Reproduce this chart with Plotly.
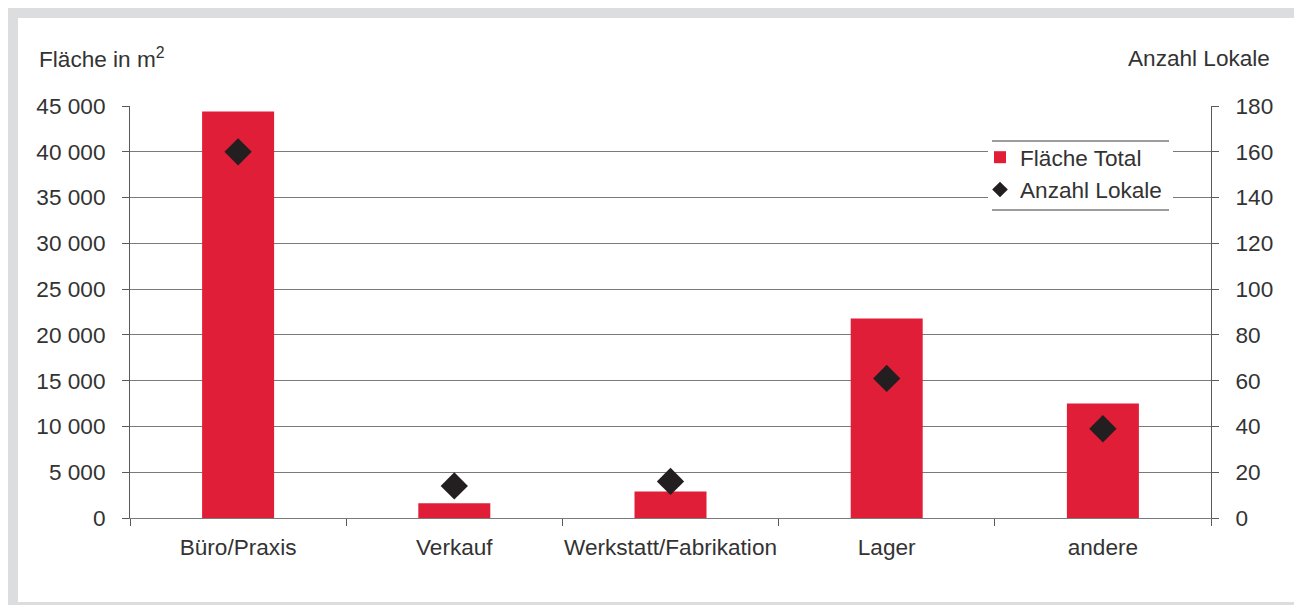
import plotly.graph_objects as go

categories = ["Büro/Praxis", "Verkauf", "Werkstatt/Fabrikation", "Lager", "andere"]
flaeche_total = [44400, 1600, 2900, 21800, 12500]
anzahl_lokale = [160, 14, 16, 61, 39]

W, H = 1294, 605
L, R, T, B = 130, 1211, 106, 518

def px_x(p):
    return (p - L) / (R - L)

def px_y(p):
    return (B - p) / (B - T)

FONT = "Liberation Sans"
FS = 22.6
TXT = "#333333"
RED = "#e01e37"
GRID = "#7a7a7a"
AX = "#5a5a5a"

fig = go.Figure()
fig.add_trace(go.Bar(
    x=categories, y=flaeche_total, name="Fläche Total",
    marker=dict(color=RED, line=dict(width=0)), width=0.333,
    legendgroup="a", yaxis="y",
))
fig.add_trace(go.Scatter(
    x=categories, y=anzahl_lokale, name="Anzahl Lokale", mode="markers",
    marker=dict(symbol="diamond", size=21, color="#231f20"),
    legendgroup="b", yaxis="y2",
))

fig.update_layout(
    width=W, height=H,
    margin=dict(l=L, r=W - R, t=T, b=H - B, pad=0, autoexpand=False),
    paper_bgcolor="white", plot_bgcolor="white",
    font=dict(family=FONT, size=FS, color=TXT),
    separators=". ",
    showlegend=True,
    legend=dict(
        x=px_x(980), y=px_y(136), xanchor="left", yanchor="top",
        bgcolor="rgba(0,0,0,0)", borderwidth=0, font=dict(size=FS, color=TXT),
        tracegroupgap=0, itemsizing="constant", traceorder="grouped",
    ),
    xaxis=dict(
        type="category", range=[-0.5, 4.5], showgrid=False, showline=True,
        linecolor=GRID, linewidth=1, ticks="outside", tickson="boundaries",
        ticklen=7, tickcolor=AX, tickfont=dict(size=FS, color=TXT),
        ticklabelstandoff=9, tickangle=0, automargin=False,
    ),
    yaxis=dict(
        range=[0, 45000], dtick=5000, tickformat=",", showgrid=True,
        gridcolor=GRID, gridwidth=1, zeroline=False, showline=True,
        linecolor=AX, linewidth=1, ticks="outside", ticklen=7, tickcolor=AX,
        tickfont=dict(size=FS, color=TXT), ticklabelstandoff=12,
        automargin=False,
    ),
    yaxis2=dict(
        range=[0, 180], dtick=20, overlaying="y", side="right", showgrid=False,
        zeroline=False, showline=True, linecolor=AX, linewidth=1,
        ticks="outside", ticklen=7, tickcolor=AX,
        tickfont=dict(size=FS, color=TXT), ticklabelstandoff=12,
        automargin=False,
    ),
    annotations=[
        dict(text="Fläche in m<sup>2</sup>", xref="paper", yref="paper",
             x=px_x(37), y=px_y(58), xanchor="left", yanchor="middle",
             showarrow=False, font=dict(size=FS, color=TXT)),
        dict(text="Anzahl Lokale", xref="paper", yref="paper",
             x=px_x(1272), y=px_y(58), xanchor="right", yanchor="middle",
             showarrow=False, font=dict(size=FS, color=TXT)),
    ],
    shapes=[
        dict(type="rect", xref="paper", yref="paper",
             x0=px_x(13), x1=px_x(1310), y0=px_y(13), y1=px_y(607),
             line=dict(color="#dcdddf", width=10), fillcolor="rgba(0,0,0,0)",
             layer="below"),
        dict(type="rect", xref="paper", yref="paper",
             x0=px_x(988), x1=px_x(1173), y0=px_y(141), y1=px_y(210),
             line=dict(width=0), fillcolor="white", layer="above"),
        dict(type="line", xref="paper", yref="paper",
             x0=px_x(992), x1=px_x(1169), y0=px_y(141), y1=px_y(141),
             line=dict(color="#3a3a3a", width=1), layer="above"),
        dict(type="line", xref="paper", yref="paper",
             x0=px_x(992), x1=px_x(1169), y0=px_y(210), y1=px_y(210),
             line=dict(color="#3a3a3a", width=1), layer="above"),
    ],
)

fig.write_html("out.html")
